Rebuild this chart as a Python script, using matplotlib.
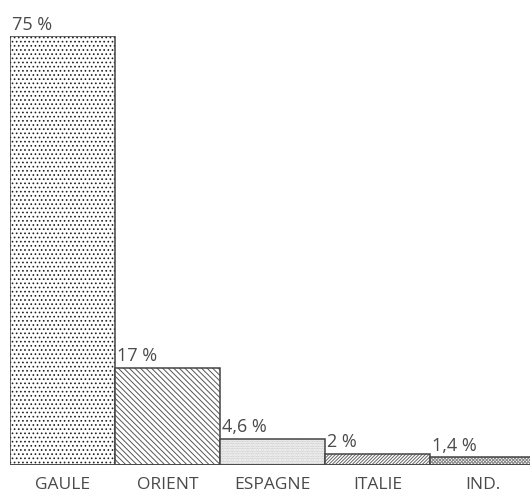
import matplotlib
matplotlib.use("Agg")
import matplotlib.pyplot as plt

categories = ["GAULE", "ORIENT", "ESPAGNE", "ITALIE", "IND."]
values = [75, 17, 4.6, 2, 1.4]
labels = ["75 %", "17 %", "4,6 %", "2 %", "1,4 %"]
hatches = ["....", "\\\\\\\\\\\\", "..........", "//////////", "xxxxxxxxxx"]
hatch_colors = ["#222222", "#555555", "#bbbbbb", "#666666", "#888888"]

plt.rcParams['font.family'] = ['Open Sans', 'DejaVu Sans']
plt.rcParams['hatch.linewidth'] = 0.7

W, H = 530, 495
fig = plt.figure(figsize=(W / 100, H / 100), dpi=100)
ax = fig.add_axes([10 / W, 30 / H, 520 / W, 429 / H])
ax.set_xlim(0, 520 / 105)
ax.set_ylim(0, 75)
ax.axis('off')

text_color = '#4a4a4a'
for i, v in enumerate(values):
    ax.bar(i, v, width=1, align='edge', color='white', edgecolor=hatch_colors[i],
           hatch=hatches[i], linewidth=0, clip_on=True)
    ax.bar(i, v, width=1, align='edge', fill=False, edgecolor='#444444',
           linewidth=1.1, clip_on=True)
    ax.text(i + 0.02, v + 1.1, labels[i], ha='left', va='baseline',
            fontsize=13, color=text_color)
    ax.text(i + 0.5, -4.25, categories[i], ha='center', va='baseline',
            fontsize=12.5, color=text_color)
ax.axhline(0, color='#444444', linewidth=1.1)

fig.savefig("out.png", dpi=100)
